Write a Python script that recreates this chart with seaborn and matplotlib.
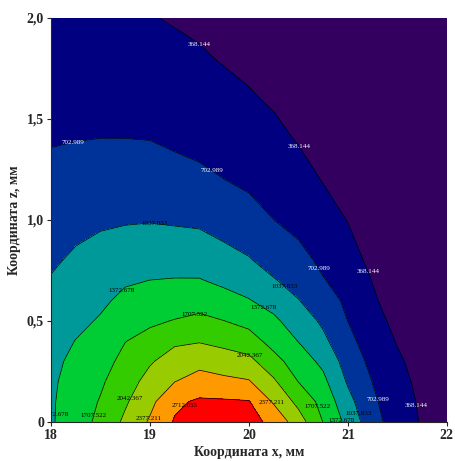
import numpy as np
import matplotlib
matplotlib.use("Agg")
import matplotlib.pyplot as plt
import seaborn as sns

# координаты сетки (мм)
x_mm = [18.0, 18.25, 18.5, 18.75, 19.0, 19.25, 19.5, 19.75, 20.0,
        20.25, 20.5, 20.75, 21.0, 21.25, 21.5, 21.75, 22.0]
z_mm = [0.0, 0.1, 0.2, 0.3, 0.4, 0.5, 0.6, 0.7, 0.8, 1.0, 1.2, 1.4, 1.6, 1.8, 2.0]

# значения поля, по одной строке на каждое z (оценка по картинке)
field = [
    [1340, 1540, 1795, 2104, 2416, 2740, 2900, 2880, 2830, 2620, 2200, 1700, 1275, 820, 545, 340, 200],
    [1335, 1530, 1730, 2000, 2290, 2650, 2760, 2750, 2730, 2340, 1950, 1600, 1140, 760, 510, 320, 190],
    [1320, 1500, 1660, 1900, 2150, 2370, 2500, 2450, 2400, 2090, 1700, 1450, 1000, 695, 465, 290, 175],
    [1290, 1450, 1580, 1800, 2010, 2180, 2280, 2200, 2130, 1830, 1530, 1300, 890, 620, 410, 260, 160],
    [1250, 1380, 1490, 1700, 1800, 1990, 2020, 1950, 1860, 1580, 1365, 1110, 790, 540, 350, 230, 145],
    [1190, 1300, 1400, 1560, 1660, 1720, 1790, 1710, 1600, 1430, 1220, 980, 700, 460, 300, 200, 130],
    [1120, 1220, 1320, 1440, 1500, 1560, 1570, 1480, 1390, 1260, 1050, 850, 640, 400, 260, 175, 115],
    [1055, 1150, 1240, 1340, 1375, 1390, 1390, 1310, 1230, 1060, 920, 720, 580, 360, 230, 155, 105],
    [1000, 1080, 1160, 1220, 1260, 1250, 1240, 1150, 1060, 920, 800, 640, 480, 300, 200, 140, 95],
    [900, 960, 990, 1010, 1020, 1000, 980, 900, 830, 705, 610, 480, 360, 240, 160, 110, 80],
    [790, 830, 850, 860, 860, 820, 780, 705, 640, 560, 470, 355, 280, 180, 120, 90, 65],
    [680, 695, 706, 706, 698, 650, 600, 555, 505, 440, 350, 270, 210, 140, 100, 75, 55],
    [600, 590, 580, 565, 545, 515, 480, 440, 395, 335, 270, 210, 160, 115, 85, 65, 50],
    [530, 515, 500, 480, 455, 425, 395, 350, 305, 260, 210, 165, 125, 95, 72, 58, 45],
    [470, 450, 430, 405, 380, 350, 320, 285, 250, 215, 180, 145, 115, 90, 70, 55, 45],
]

# уровни изолиний
line_levels = [368.144, 702.989, 1037.833, 1372.678, 1707.522, 2042.367, 2377.211, 2712.055]
band_edges = [0] + line_levels + [3100]
fill_colors = ["#34005f", "#000080", "#003399", "#009999", "#00cc33",
               "#33cc00", "#99cc00", "#ff9900", "#ff0000"]
label_colors = ["white", "white", "black", "black", "black", "black", "black", "black"]

# где стоят подписи изолиний
label_spots = [
    (19.52, 1.88), (20.52, 1.37), (21.24, 0.75), (21.68, 0.08),
    (18.22, 1.40), (19.63, 1.25), (20.68, 0.75), (21.29, 0.11),
    (19.05, 0.99), (20.35, 0.66), (21.11, 0.04),
    (18.72, 0.65), (20.14, 0.56), (20.95, 0.01), (18.11, 0.035),
    (19.45, 0.53), (20.70, 0.08), (18.46, 0.03),
    (20.03, 0.34), (18.78, 0.12),
    (20.24, 0.10), (18.98, 0.02),
    (19.35, 0.08),
]

x_ticks = [18, 19, 20, 21, 22]
z_ticks = [0, 0.5, 1.0, 1.5, 2.0]
z_tick_labels = ["0", "0,5", "1,0", "1,5", "2,0"]

sns.set_style("ticks")
plt.rcParams['font.family'] = ['Liberation Serif', 'DejaVu Serif']

fig = plt.figure(figsize=(4.55, 4.61), dpi=100)
ax = fig.add_axes([0.112, 0.085, 0.870, 0.876])

X, Z = np.meshgrid(x_mm, z_mm)
V = np.array(field, dtype=float)

ax.contourf(X, Z, V, levels=band_edges, colors=fill_colors)
cs = ax.contour(X, Z, V, levels=line_levels, colors="black", linewidths=0.5)
texts = ax.clabel(cs, fmt="%.3f", fontsize=5, colors=label_colors,
                  inline=False, manual=label_spots)
# подписи в оригинале горизонтальные
for t in texts:
    t.set_rotation(0)

ax.set_xlim(18, 22)
ax.set_ylim(0, 2)
ax.set_xticks(x_ticks)
ax.set_xticklabels([str(t) for t in x_ticks])
ax.set_yticks(z_ticks)
ax.set_yticklabels(z_tick_labels)
ax.tick_params(axis="both", labelsize=10, length=3, width=0.8, direction="out", pad=2)
for lab in ax.get_xticklabels() + ax.get_yticklabels():
    lab.set_fontweight("bold")

ax.set_xlabel("Координата x, мм", fontsize=10, fontweight="bold", labelpad=3)
ax.set_ylabel("Координата z, мм", fontsize=10, fontweight="bold", labelpad=4)

sns.despine(ax=ax, top=True, right=True)

fig.savefig("out.png", dpi=100)
